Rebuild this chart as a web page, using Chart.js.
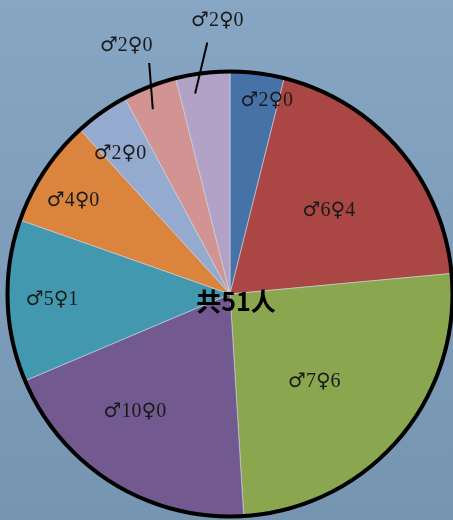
<!DOCTYPE html>
<html><head><meta charset="utf-8">
<script src="https://cdn.jsdelivr.net/npm/chart.js@4/dist/chart.umd.min.js"></script>
<style>
html,body{margin:0;padding:0;width:453px;height:520px;overflow:hidden;background:linear-gradient(to bottom,#87a6c4 0%,#7e9dbb 50%,#7595b0 100%);}
#wrap{position:relative;width:453px;height:520px;}
</style></head><body>
<div id="wrap"><canvas id="c" width="453" height="520"></canvas></div>
<script>
const categories = ['♂2♀0','♂6♀4','♂7♀6','♂10♀0','♂5♀1','♂4♀0','♂2♀0','♂2♀0','♂2♀0'];
const values = [2,10,13,10,6,4,2,2,2];
const colors = ['#4672a8','#aa4744','#8aa64e','#72598f','#4298af','#db843d','#94aacf','#d29492','#b1a2c6'];
const centerText = '共51人';

// label placement: [angle offset from slice middle (deg), fraction of radius]
const labelPos = [[3.7,0.886],[0.6,0.58],[5.6,0.547],[7.2,0.68],[0,0.80],[-2.9,0.82],[-2.9,0.80],[-1.5,1.21],[4.4,1.23]];
// leader lines for outside labels: [[angleOffset, frac],[angleOffset, frac]]
const leader = [null,null,null,null,null,null,null,[[-1.5,0.9],[1.9,1.1]],[[-2.8,0.915],[1.9,1.135]]];

function drawLabel(ctx, text, x, y){
  const symFont = "20px 'DejaVu Sans',sans-serif";
  const txtFont = "20px 'Liberation Serif','DejaVu Serif',serif";
  const runs = [];
  for(const ch of text){
    const sym = (ch==='♂'||ch==='♀');
    const f = sym?symFont:txtFont;
    if(runs.length && runs[runs.length-1].f===f) runs[runs.length-1].t+=ch;
    else runs.push({f,t:ch});
  }
  let total=0;
  runs.forEach(r=>{ctx.font=r.f; r.w=ctx.measureText(r.t).width; total+=r.w;});
  let cx=x-total/2;
  ctx.textAlign='left';ctx.textBaseline='middle';
  runs.forEach(r=>{ctx.font=r.f; ctx.fillText(r.t,cx,y); cx+=r.w;});
}

const labelPlugin = {
  id:'labels',
  afterDatasetsDraw(chart){
    const ctx = chart.ctx;
    const meta = chart.getDatasetMeta(0);
    let cx, cy, R;
    const pt=(mid,off,fr)=>{const a=mid+off*Math.PI/180;return [cx+Math.cos(a)*R*fr, cy+Math.sin(a)*R*fr];};
    meta.data.forEach((arc,i)=>{
      const p = arc.getProps(['x','y','startAngle','endAngle','outerRadius'],true);
      cx=p.x; cy=p.y; R=p.outerRadius;
      const mid=(p.startAngle+p.endAngle)/2;
      if(leader[i]){
        const a=pt(mid,leader[i][0][0],leader[i][0][1]);
        const b=pt(mid,leader[i][1][0],leader[i][1][1]);
        ctx.save();
        ctx.strokeStyle='#000';ctx.lineWidth=2;
        ctx.beginPath();ctx.moveTo(a[0],a[1]);ctx.lineTo(b[0],b[1]);ctx.stroke();ctx.restore();
      }
      const l=pt(mid,labelPos[i][0],labelPos[i][1]);
      ctx.save();
      ctx.fillStyle='#1a1a1a';
      drawLabel(ctx,categories[i],l[0],l[1]);
      ctx.restore();
    });
    // outer black ring
    ctx.save();
    ctx.strokeStyle='#000';ctx.lineWidth=4;
    ctx.beginPath();ctx.arc(cx,cy,R,0,Math.PI*2);ctx.stroke();
    // center text
    ctx.fillStyle='#000';
    ctx.font="bold 25px 'Noto Sans CJK SC',sans-serif";
    ctx.textAlign='center';ctx.textBaseline='middle';
    ctx.fillText(centerText,cx+6,cy+7);
    ctx.restore();
  }
};

new Chart(document.getElementById('c'),{
  type:'pie',
  data:{labels:categories,datasets:[{data:values,backgroundColor:colors,borderColor:'rgba(220,220,230,0.55)',borderWidth:1}]},
  options:{
    responsive:false,animation:false,
    layout:{padding:{top:69,bottom:1,left:7,right:0}},
    plugins:{legend:{display:false},tooltip:{enabled:false}}
  },
  plugins:[labelPlugin]
});
</script>
</body></html>
